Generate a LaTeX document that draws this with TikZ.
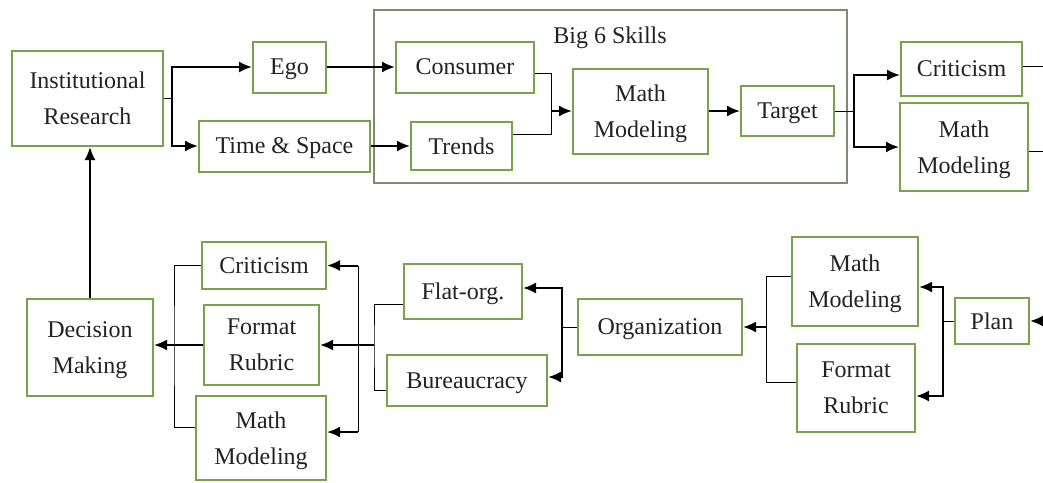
\documentclass[tikz,border=0pt]{standalone}
\usepackage{fontspec}
\setmainfont{Liberation Serif}
\usetikzlibrary{arrows,arrows.meta}
\definecolor{box-green}{HTML}{77A34A}
\definecolor{frame-grey}{HTML}{7E8B70}
\definecolor{ink}{HTML}{222222}
\tikzset{
  stage/.style={draw=box-green, line width=1pt, align=center, text=ink,
    font=\fontsize{12}{18}\selectfont, inner sep=0pt, text depth=0pt},
  box size/.style 2 args={minimum width=#1*0.5pt, minimum height=#2*0.5pt},
  join-line/.style={line width=0.5pt},
  flow-line/.style={line width=1pt, -{Latex[length=6.5pt,width=5.5pt]}},
}
\begin{document}
\begin{tikzpicture}[x=0.5pt, y=-0.5pt]
\useasboundingbox (0,0) rectangle (1043,482);
% top row
\node[stage, box size={151}{95}] (inst) at (87.5,98.5) {Institutional\\Research};
\node[stage, box size={73}{51}] (ego) at (289.5,67) {Ego};
\node[stage, box size={171}{51}] (time) at (284.5,146) {Time \& Space};
\draw[frame-grey, line width=0.6pt] (374,10) rectangle (847,183);
\node[text=ink, font=\fontsize{12}{18}\selectfont] (big6) at (610,38) {Big 6 Skills};
\node[stage, box size={138}{51}] (consumer) at (465,67) {Consumer};
\node[stage, box size={101}{48}] (trends) at (461.5,146) {Trends};
\node[stage, box size={135}{85}] (model1) at (640.5,111) {Math\\Modeling};
\node[stage, box size={93}{50}] (target) at (787.5,111) {Target};
\node[stage, box size={121}{54}] (crit1) at (961.5,69) {Criticism};
\node[stage, box size={128}{88}] (model2) at (964,147) {Math\\Modeling};
% bottom row
\node[stage, box size={126}{97}] (dec) at (90,347.5) {Decision\\Making};
\node[stage, box size={124}{47}] (crit2) at (264,265.5) {Criticism};
\node[stage, box size={115}{80}] (rubric2) at (261.5,345) {Format\\Rubric};
\node[stage, box size={130}{84}] (model3) at (261,438) {Math\\Modeling};
\node[stage, box size={118}{55}] (flat) at (463,291.5) {Flat-org.};
\node[stage, box size={160}{51}] (bureau) at (467,380.5) {Bureaucracy};
\node[stage, box size={164}{56}] (org) at (660,327) {Organization};
\node[stage, box size={126}{89}] (model4) at (855,281.5) {Math\\Modeling};
\node[stage, box size={118}{88}] (rubric4) at (856,388) {Format\\Rubric};
\node[stage, box size={74}{46}] (plan) at (992,321) {Plan};
% joints and loose ends
\coordinate (j-inst) at (172,0);
\coordinate (j-big6) at (551,0);
\coordinate (j-target) at (854,0);
\coordinate (j-dec) at (174,0);
\coordinate (j-crit) at (358,0);
\coordinate (j-flat) at (374,0);
\coordinate (j-org) at (562,0);
\coordinate (j-model) at (766,0);
\coordinate (j-plan) at (943,0);
\coordinate (out-crit) at (1043,66);
\coordinate (out-model) at (1043,151);
\coordinate (in-plan) at (1043,321);
% top connectors
\draw[join-line] (inst.east) -- (inst.east -| j-inst);
\draw[flow-line] (j-inst |- inst.east) |- (ego.west);
\draw[flow-line] (j-inst |- inst.east) |- (time.west);
\draw[flow-line] (ego) -- (consumer);
\draw[flow-line] (time) -- (trends);
\draw[join-line] ([yshift=-3pt]consumer.east) -| (j-big6 |- model1.west);
\draw[join-line] ([yshift=6pt]trends.east) -| (j-big6 |- model1.west);
\draw[flow-line] (j-big6 |- model1.west) -- (model1.west);
\draw[flow-line] (model1) -- (target);
\draw[join-line] (target.east) -- (target.east -| j-target);
\draw[flow-line] (j-target |- target.east) |- ([yshift=-3pt]crit1.west);
\draw[flow-line] (j-target |- target.east) |- (model2.west);
\draw[join-line] ([yshift=1.5pt]crit1.east) -- (out-crit);
\draw[join-line] ([yshift=-2pt]model2.east) -- (out-model);
% feedback
\draw[flow-line] (dec.north) -- (dec.north |- inst.south);
% bottom connectors
\draw[join-line] (crit2.west) -| (j-dec |- rubric2.west) |- ([yshift=5.5pt]model3.west);
\draw[flow-line] (rubric2.west) -- (rubric2.west -| dec.east);
\draw[join-line] (j-crit |- crit2.east) -- ([yshift=3pt]model3.east -| j-crit);
\draw[flow-line] (j-crit |- crit2.east) -- (crit2.east);
\draw[flow-line] ([yshift=3pt]model3.east -| j-crit) -- ([yshift=3pt]model3.east);
\draw[flow-line] (j-flat |- rubric2.east) -- (rubric2.east);
\draw[join-line] ([yshift=-6.25pt]flat.west) -| (j-flat |- rubric2.east) |- ([yshift=-4.75pt]bureau.west);
\draw[join-line] (org.west) -- (org.west -| j-org);
\draw[flow-line] (j-org |- org.west) |- ([yshift=1.75pt]flat.east);
\draw[flow-line] (j-org |- org.west) |- ([yshift=1.75pt]bureau.east);
\draw[join-line] ([yshift=2.75pt]model4.west) -| (j-model |- org.east) |- ([yshift=3pt]rubric4.west);
\draw[flow-line] (j-model |- org.east) -- (org.east);
\draw[join-line] (plan.west) -- (plan.west -| j-plan);
\draw[flow-line] (j-plan |- plan.west) |- ([yshift=-2.75pt]model4.east);
\draw[flow-line] (j-plan |- plan.west) |- ([yshift=-4pt]rubric4.east);
\draw[flow-line] (in-plan) -- (plan.east);
\end{tikzpicture}
\end{document}
